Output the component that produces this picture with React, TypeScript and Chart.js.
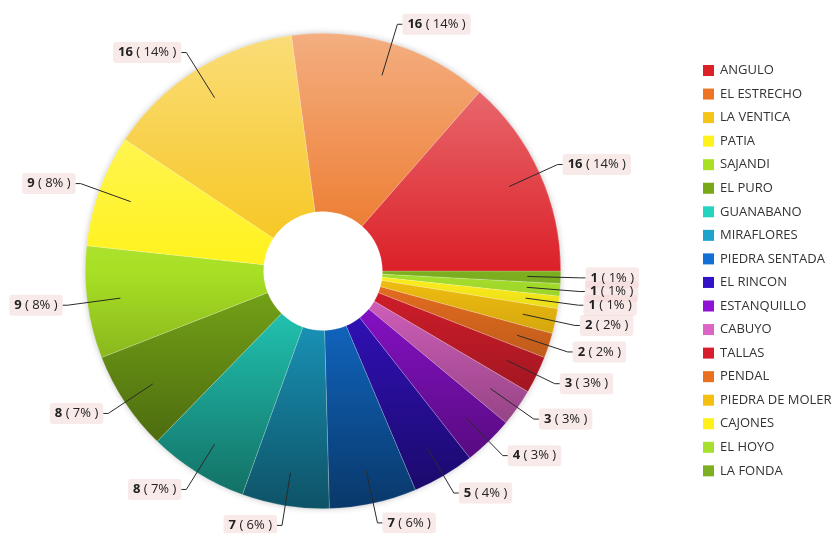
import React, { useEffect, useRef } from "react";
import { Chart, registerables } from "chart.js";

Chart.register(...registerables);

const categories = [
  "ANGULO", "EL ESTRECHO", "LA VENTICA", "PATIA", "SAJANDI", "EL PURO",
  "GUANABANO", "MIRAFLORES", "PIEDRA SENTADA", "EL RINCON", "ESTANQUILLO",
  "CABUYO", "TALLAS", "PENDAL", "PIEDRA DE MOLER", "CAJONES", "EL HOYO", "LA FONDA",
];
const values = [16, 16, 16, 9, 9, 8, 8, 7, 7, 5, 4, 3, 3, 2, 2, 1, 1, 1];
const colors = [
  "#dc2028", "#ec7424", "#f6c418", "#fff21a", "#a8e024", "#78a818",
  "#24d4c0", "#1ca4cc", "#1270d4", "#3412c8", "#9012d4", "#dc64c4",
  "#d81e2c", "#ea7020", "#f4c010", "#fff01c", "#a6e02c", "#7cb020",
];

const FONT = "'Open Sans', 'Segoe UI', sans-serif";

function hexToRgb(h: string) {
  const n = parseInt(h.slice(1), 16);
  return [(n >> 16) & 255, (n >> 8) & 255, n & 255];
}
function mix(hex: string, target: number[], t: number) {
  const c = hexToRgb(hex);
  const r = c.map((v, i) => Math.round(v + (target[i] - v) * t));
  return `rgb(${r[0]},${r[1]},${r[2]})`;
}

export default function App() {
  const ref = useRef<HTMLCanvasElement | null>(null);

  useEffect(() => {
    const canvas = ref.current!;
    const revLabels = [...categories].reverse();
    const revValues = [...values].reverse();
    const revColors = [...colors].reverse();
    const total = values.reduce((a, b) => a + b, 0);

    const shadowPlugin = {
      id: "pieShadow",
      beforeDatasetsDraw(chart: any) {
        const arc = chart.getDatasetMeta(0).data[0];
        if (!arc) return;
        const { x, y, outerRadius } = arc.getProps(["x", "y", "outerRadius"], true);
        const ctx = chart.ctx;
        ctx.save();
        ctx.shadowColor = "rgba(0,0,0,0.3)";
        ctx.shadowBlur = 7;
        ctx.fillStyle = "#ffffff";
        ctx.beginPath();
        ctx.arc(x, y, outerRadius - 1, 0, Math.PI * 2);
        ctx.fill();
        ctx.restore();
      },
    };

    const labelPlugin = {
      id: "sliceLabels",
      afterDatasetsDraw(chart: any) {
        const ctx = chart.ctx;
        const meta = chart.getDatasetMeta(0);
        const items: any[] = [];
        meta.data.forEach((el: any, i: number) => {
          const p = el.getProps(["x", "y", "startAngle", "endAngle", "outerRadius"], true);
          const mid = (p.startAngle + p.endAngle) / 2;
          const cos = Math.cos(mid), sin = Math.sin(mid);
          const r0 = p.outerRadius * 0.86;
          const r1 = p.outerRadius + 20;
          const sx = p.x + cos * r0, sy = p.y + sin * r0;
          const ax = p.x + cos * r1, ay = p.y + sin * r1;
          const dir = cos >= 0 ? 1 : -1;
          const ex = ax + dir * 5;
          const v = revValues[i];
          const pct = Math.round((v / total) * 100);
          ctx.font = `bold 13px ${FONT}`;
          const numTxt = String(v);
          const wNum = ctx.measureText(numTxt).width;
          ctx.font = `13px ${FONT}`;
          const restTxt = ` ( ${pct}% )`;
          const wRest = ctx.measureText(restTxt).width;
          const w = wNum + wRest;
          const tx = dir > 0 ? ex + 5 : ex - 5 - w;
          items.push({ sx, sy, ax, ay, ex, tx, ty: ay, w, wNum, numTxt, restTxt });
        });
        ctx.save();
        ctx.strokeStyle = "#2a2a2a";
        ctx.lineWidth = 1;
        items.forEach((it) => {
          ctx.beginPath();
          ctx.moveTo(it.sx, it.sy);
          ctx.lineTo(it.ax, it.ay);
          ctx.lineTo(it.ex, it.ay);
          ctx.stroke();
        });
        items.forEach((it) => {
          ctx.fillStyle = "rgba(243,214,214,0.5)";
          ctx.beginPath();
          (ctx as any).roundRect(it.tx - 5, it.ty - 10.5, it.w + 10, 21, 3);
          ctx.fill();
        });
        ctx.textBaseline = "middle";
        ctx.fillStyle = "#222";
        items.forEach((it) => {
          ctx.font = `bold 13px ${FONT}`;
          ctx.fillText(it.numTxt, it.tx, it.ty);
          ctx.font = `13px ${FONT}`;
          ctx.fillText(it.restTxt, it.tx + it.wNum, it.ty);
        });
        ctx.restore();
      },
    };

    const legendPlugin = {
      id: "sideLegend",
      afterDraw(chart: any) {
        const ctx = chart.ctx;
        ctx.save();
        ctx.font = `13px ${FONT}`;
        ctx.textBaseline = "middle";
        categories.forEach((c, i) => {
          const y = 70.5 + i * 23.55;
          ctx.fillStyle = colors[i];
          ctx.fillRect(703, y - 5.5, 11, 11);
          ctx.fillStyle = "#333";
          ctx.fillText(c, 720, y);
        });
        ctx.restore();
      },
    };

    const chart = new Chart(canvas, {
      type: "doughnut",
      data: {
        labels: revLabels,
        datasets: [
          {
            data: revValues,
            backgroundColor: (c: any) => {
              const base = revColors[c.dataIndex];
              const area = c.chart.chartArea;
              if (!area) return base;
              const g = c.chart.ctx.createLinearGradient(0, area.top, 0, area.bottom);
              g.addColorStop(0, mix(base, [255, 255, 255], 0.42));
              g.addColorStop(0.5, base);
              g.addColorStop(1, mix(base, [0, 0, 0], 0.5));
              return g;
            },
            borderWidth: 0.6,
            borderColor: "rgba(255,255,255,0.3)",
          },
        ],
      },
      options: {
        responsive: false,
        animation: false,
        devicePixelRatio: 1,
        rotation: 90,
        cutout: "25%",
        layout: { padding: { left: 85, top: 33, right: 277, bottom: 24 } },
        plugins: {
          legend: { display: false },
          tooltip: { enabled: false },
        },
      },
      plugins: [shadowPlugin, labelPlugin, legendPlugin],
    });
    return () => chart.destroy();
  }, []);

  return (
    <div style={{ position: "fixed", left: 0, top: 0, width: 838, height: 533, background: "#fff" }}>
      <canvas ref={ref} width={838} height={533} style={{ display: "block", width: 838, height: 533 }} />
    </div>
  );
}
